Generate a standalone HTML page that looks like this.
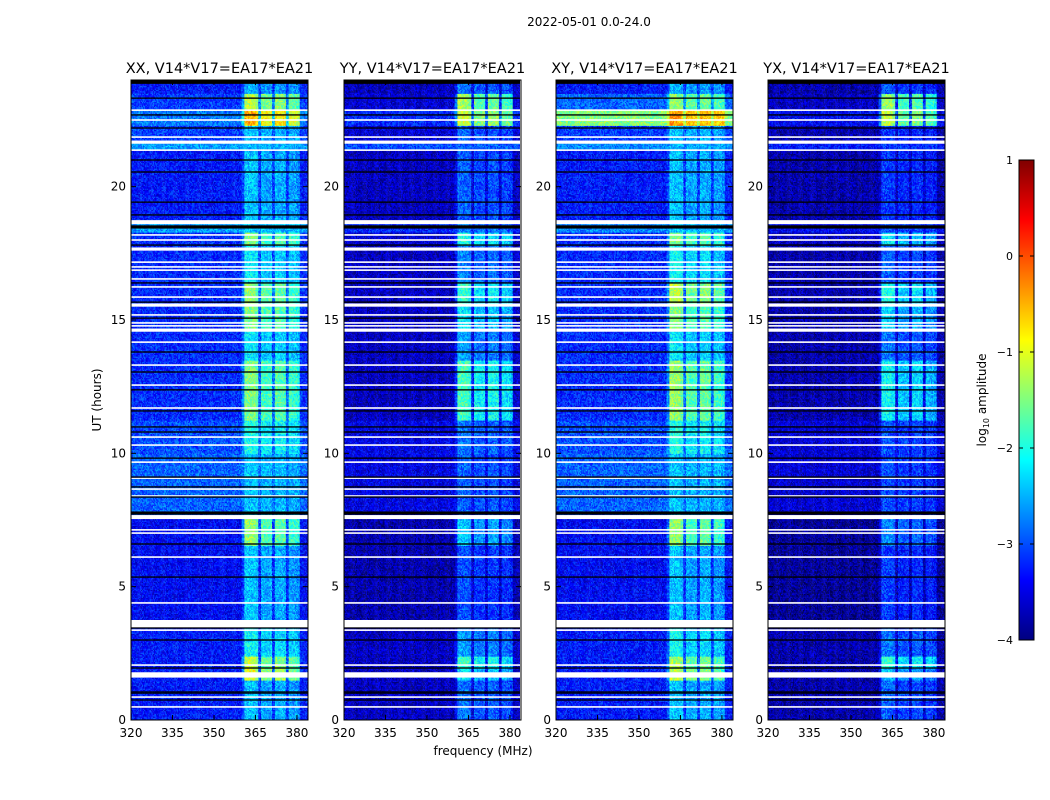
<!DOCTYPE html>
<html><head><meta charset="utf-8">
<style>
body{margin:0;background:#fff;width:1050px;height:800px;overflow:hidden;position:relative;font-family:"DejaVu Sans","Liberation Sans",sans-serif}
canvas{position:absolute;image-rendering:pixelated}
svg{position:absolute;left:0;top:0;font-family:"DejaVu Sans","Liberation Sans",sans-serif}
</style></head>
<body>
<canvas id="c0" width="177" height="640" style="left:131px;top:80px"></canvas>
<canvas id="c1" width="176" height="640" style="left:344px;top:80px"></canvas>
<canvas id="c2" width="177" height="640" style="left:556px;top:80px"></canvas>
<canvas id="c3" width="177" height="640" style="left:768px;top:80px"></canvas>
<canvas id="cb" width="15" height="480" style="left:1019px;top:160px"></canvas>
<svg id="s" width="1050" height="800"></svg>
<script>
// ---- data ----
const titles = ["XX, V14*V17=EA17*EA21","YY, V14*V17=EA17*EA21","XY, V14*V17=EA17*EA21","YX, V14*V17=EA17*EA21"];
const xTicks = [320,335,350,365,380];
const yTicks = [0,5,10,15,20];
const cbTicks = [1,0,-1,-2,-3,-4];
const segEdges = [0,1.5,1.95,2.4,3.4,3.75,6.55,7.7,10,11.25,13.5,14.6,15.6,16.4,17.8,18.3,18.7,21.4,21.7,22.3,22.9,23.5,24];
const bgXX = [-3.3,-3.3,-3.3,-3.3,-3.3,-3.4,-3.4,-2.9,-3.0,-3.2,-3.2,-3.2,-3.2,-3.2,-3.2,-2.6,-3.3,-2.6,-3.1,-2.8,-3.1,-3.3];
const bandXX = [-2.4,-1.0,-1.2,-2.1,-2.2,-2.4,-1.4,-2.4,-2.0,-1.5,-2.2,-1.5,-1.4,-2.2,-1.5,-2.4,-2.4,-2.5,-2.4,-0.5,-1.2,-2.5];
const bgYY = [-3.7,-3.7,-3.7,-3.7,-3.7,-3.8,-3.8,-3.5,-3.5,-3.7,-3.7,-3.7,-3.7,-3.7,-3.6,-3.2,-3.7,-3.0,-3.6,-3.2,-3.6,-3.7];
const bandYY = [-2.8,-2.2,-1.8,-2.6,-2.7,-3.0,-2.4,-2.9,-2.8,-1.8,-2.6,-2.2,-1.9,-2.7,-2.0,-2.8,-2.9,-2.9,-2.9,-1.1,-1.3,-2.8];
const bgXY = [-3.3,-3.3,-3.3,-3.3,-3.3,-3.4,-3.4,-2.9,-3.0,-3.2,-3.2,-3.2,-3.2,-3.2,-3.2,-2.7,-3.3,-2.7,-3.1,-1.5,-2.9,-3.3];
const bandXY = [-2.4,-1.2,-1.3,-2.1,-2.2,-2.4,-1.4,-2.4,-2.0,-1.4,-2.2,-1.5,-1.2,-2.1,-1.5,-2.4,-2.4,-2.5,-2.4,-0.4,-1.4,-2.5];
const bgYX = [-3.8,-3.8,-3.8,-3.8,-3.8,-3.9,-3.9,-3.6,-3.6,-3.8,-3.8,-3.8,-3.8,-3.8,-3.7,-3.4,-3.8,-3.3,-3.8,-3.4,-3.7,-3.8];
const bandYX = [-2.9,-2.4,-1.9,-2.8,-2.9,-3.1,-2.7,-3.0,-3.0,-2.1,-2.8,-2.3,-2.0,-2.9,-2.2,-3.0,-3.1,-3.1,-3.1,-1.2,-1.4,-3.0];
// channel profile, 1 MHz channels from 320 to 383
const bandProfile = [0,0,0,0,0,0,0,0,0,0,0,0,0,0,0,0,0,0,0,0,0,0,0,0,0,0,0,0,0,0,0,0,0,0,0,0,0,0,0,0,
  0.3,1,1,1,1,0.9,0.2,0.85,0.8,0.8,0.8,0.2,0.9,0.85,0.85,0.85,0.2,0.8,0.75,0.75,0.7,0.05,0,0];
const whiteFlags = [22.87,22.5,21.86,21.67,21.37,18.67,18.19,18.0,17.66,17.17,16.99,16.87,16.54,16.24,15.86,15.56,15.19,14.89,14.78,14.62,14.17,13.31,12.56,11.7,10.61,10.31,9.67,9.07,8.66,8.4,7.61,7.13,7.01,6.11,4.39,3.6,3.37,2.06,1.69,0.86,0.49];
const whiteWidth = [0.06,0.06,0.06,0.12,0.06,0.15,0.06,0.06,0.12,0.06,0.06,0.06,0.06,0.06,0.06,0.12,0.06,0.06,0.06,0.12,0.06,0.06,0.06,0.06,0.06,0.06,0.06,0.06,0.06,0.06,0.15,0.06,0.06,0.06,0.06,0.3,0.06,0.06,0.2,0.06,0.06];
const blackFlags = [23.93,23.32,22.69,22.2,21.0,20.55,19.42,18.94,18.49,17.81,16.39,15.67,15.07,13.8,13.05,12.38,11.59,10.99,10.8,9.82,9.11,8.74,8.36,7.76,6.6,5.36,3.45,3.0,1.95,1.05,1.01,0.75];
const blackWidth = [0.15,0.05,0.05,0.05,0.05,0.05,0.05,0.05,0.12,0.05,0.05,0.05,0.05,0.05,0.05,0.05,0.05,0.05,0.05,0.05,0.05,0.05,0.05,0.12,0.05,0.05,0.05,0.05,0.05,0.05,0.05,0.05];
const panels = [[bgXX,bandXX],[bgYY,bandYY],[bgXY,bandXY],[bgYX,bandYX]];

// ---- geometry ----
const panelX = [131,344,556,768], PW=177, PT=80, PH=640;
const fMin=320, fMax=384, tMin=0, tMax=24;
const xs = (f,i)=> panelX[i] + (f-fMin)/(fMax-fMin)*PW;
const ys = t => PT + PH - (t-tMin)/(tMax-tMin)*PH;
const vMin=-4, vMax=1;

function jet(v){
  const x=(v-vMin)/(vMax-vMin);
  const c=t=>Math.max(0,Math.min(1,t));
  const r=c(1.5-Math.abs(4*x-3)), g=c(1.5-Math.abs(4*x-2)), b=c(1.5-Math.abs(4*x-1));
  return `rgb(${Math.round(r*255)},${Math.round(g*255)},${Math.round(b*255)})`;
}
function hash(a,b,c){let h=(a*374761393+b*668265263+c*2147483647)|0;h=(h^(h>>>13))*1274126177|0;return ((h^(h>>>16))>>>0)/4294967295;}
function segIndex(t){for(let k=0;k<segEdges.length-1;k++){if(t<segEdges[k+1])return k;}return segEdges.length-2;}

const nRows=480, dt=(tMax-tMin)/nRows;
panels.forEach((p,i)=>{
  const cv=document.getElementById('c'+i), ctx=cv.getContext('2d');
  const bg=p[0], band=p[1];
  for(let r=0;r<nRows;r++){
    const t0=tMin+r*dt, tc=t0+dt/2, k=segIndex(tc);
    const y0=ys(t0+dt)-PT, y1=ys(t0)-PT;
    for(let ch=0;ch<bandProfile.length;ch++){
      const f0=fMin+ch, x0=xs(f0,i)-panelX[i], x1=xs(f0+1,i)-panelX[i];
      for(let s=0;s<3;s++){
        const v=bg[k]+(band[k]-bg[k])*bandProfile[ch]+(hash(r,ch*3+s,i)-0.5)*0.8;
        ctx.fillStyle=jet(v);
        const w=(x1-x0)/3;
        ctx.fillRect(x0+s*w,y0,w+0.5,y1-y0+0.5);
      }
    }
  }
  whiteFlags.forEach((t,j)=>{ctx.fillStyle='#fff';const a=ys(t+whiteWidth[j]/2)-PT,b=ys(t-whiteWidth[j]/2)-PT;ctx.fillRect(0,a,PW,Math.max(1.2,b-a));});
  blackFlags.forEach((t,j)=>{ctx.fillStyle='#000';const a=ys(t+blackWidth[j]/2)-PT,b=ys(t-blackWidth[j]/2)-PT;ctx.fillRect(0,a,PW,Math.max(1,b-a));});
});
// colorbar
(function(){const cv=document.getElementById('cb'),ctx=cv.getContext('2d');
  for(let y=0;y<480;y++){ctx.fillStyle=jet(vMax-(y+0.5)/480*(vMax-vMin));ctx.fillRect(0,y,15,1);}})();

// ---- svg axes ----
const S=document.getElementById('s'), NS='http://www.w3.org/2000/svg';
function el(tag,attrs,text){const e=document.createElementNS(NS,tag);for(const k in attrs)e.setAttribute(k,attrs[k]);if(text!==undefined)e.textContent=text;S.appendChild(e);return e;}
let e;
e=el('text',{x:589,y:26,'text-anchor':'middle','font-size':12},'2022-05-01 0.0-24.0');


panels.forEach((p,i)=>{
  const x0=panelX[i];
  e=el('rect',{x:x0,y:PT,width:PW,height:PH,fill:'none',stroke:'#000','stroke-width':1});
  
  
  e=el('text',{x:x0+PW/2,y:73,'text-anchor':'middle','font-size':14.5},titles[i]);
  
  
  xTicks.forEach(f=>{const x=xs(f,i);
    el('line',{x1:x,x2:x,y1:PT+PH,y2:PT+PH-5,stroke:'#000'});
    el('line',{x1:x,x2:x,y1:PT,y2:PT+5,stroke:'#000'});
    e=el('text',{x:x,y:737,'text-anchor':'middle','font-size':12},f);
    
    
  });
  yTicks.forEach(t=>{const y=ys(t);
    el('line',{x1:x0,x2:x0+5,y1:y,y2:y,stroke:'#000'});
    el('line',{x1:x0+PW,x2:x0+PW-5,y1:y,y2:y,stroke:'#000'});
    e=el('text',{x:x0-5,y:y+4,'text-anchor':'end','font-size':12},t);
    
    
  });
});
e=el('text',{x:0,y:0,'text-anchor':'middle','font-size':12,transform:'translate(101,400) rotate(-90)'},'UT (hours)');


e=el('text',{x:483,y:755,'text-anchor':'middle','font-size':12},'frequency (MHz)');


e=el('rect',{x:1019,y:160,width:15,height:480,fill:'none',stroke:'#000'});


cbTicks.forEach(v=>{const y=160+(vMax-v)/(vMax-vMin)*480;
  el('line',{x1:1019,x2:1023,y1:y,y2:y,stroke:'#000'});
  el('line',{x1:1034,x2:1030,y1:y,y2:y,stroke:'#000'});
  e=el('text',{x:1013,y:y+4,'text-anchor':'end','font-size':11},v<0?'\u2212'+(-v):v);
  
  
});
e=el('text',{x:0,y:0,'text-anchor':'middle','font-size':12,transform:'translate(986,400) rotate(-90)'});


e.innerHTML='log<tspan font-size="8" dy="3">10</tspan><tspan dy="-3"> amplitude</tspan>';
</script>
</body></html>
